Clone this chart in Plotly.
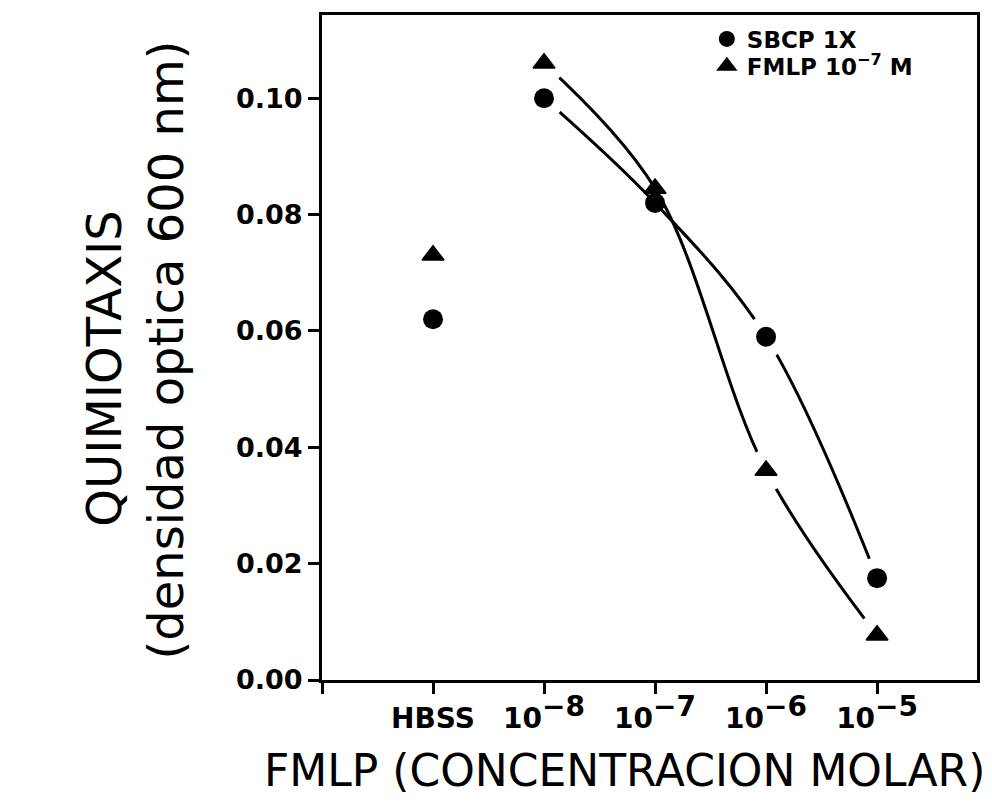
import plotly.graph_objects as go

# ---- data ----
exponents = ["−8", "−7", "−6", "−5"]
positions = [1, 2, 3, 4, 5]
sbcp_1x = [0.062, 0.100, 0.082, 0.059, 0.0175]
fmlp_1e7 = [0.073, 0.106, 0.0845, 0.036, 0.0077]
y_tick_vals = [0.00, 0.02, 0.04, 0.06, 0.08, 0.10]
y_tick_text = ["0.00", "0.02", "0.04", "0.06", "0.08", "0.10"]
series_names = ["SBCP 1X", "FMLP 10<sup>−7</sup> M"]

SUP_SIZE = 28
categories = ["HBSS"] + [
    f"10<sup><span style='font-size:{SUP_SIZE}px'>{e}</span></sup>" for e in exponents
]

# ---- layout geometry (pixels) ----
W, H = 992, 807
L, R, T, B = 322, 979, 15, 680
pw, ph = R - L, B - T


def px(x):
    return (x - L) / pw


def py(y):
    return (B - y) / ph


fig = go.Figure()

# fitted curves (concentration points only)
for vals in (sbcp_1x, fmlp_1e7):
    fig.add_trace(go.Scatter(
        x=positions[1:], y=vals[1:], mode="lines",
        line=dict(color="black", width=3, shape="spline", smoothing=1.0),
        showlegend=False, hoverinfo="skip"))

# white halos producing the gaps of the curves near the markers
halo_idx = [1, 3, 4]
for vals in (sbcp_1x, fmlp_1e7):
    fig.add_trace(go.Scatter(
        x=[positions[i] for i in halo_idx], y=[vals[i] for i in halo_idx],
        mode="markers", marker=dict(symbol="circle", size=42, color="white"),
        showlegend=False, hoverinfo="skip"))

# markers
fig.add_trace(go.Scatter(
    x=positions, y=sbcp_1x, mode="markers", name=series_names[0],
    marker=dict(symbol="circle", size=20, color="black"), legend="legend"))
fig.add_trace(go.Scatter(
    x=positions, y=fmlp_1e7, mode="markers", name=series_names[1],
    marker=dict(symbol="triangle-up", size=19, color="black",
                line=dict(color="black", width=1.5)), legend="legend2"))

tick_font_x = dict(family="DejaVu Sans", size=28, color="black", weight="bold")
tick_font_y = dict(family="DejaVu Sans", size=27, color="black", weight="bold")
title_font = dict(family="DejaVu Sans", size=44, color="black")
legend_font = dict(family="DejaVu Sans", size=23, color="black", weight="bold")

fig.update_layout(
    width=W, height=H,
    margin=dict(l=L, r=W - R, t=T, b=H - B, pad=0),
    paper_bgcolor="white", plot_bgcolor="white",
    xaxis=dict(range=[0, 5.9], tickvals=[0] + positions, ticktext=[""] + categories,
               showgrid=False, zeroline=False, showline=True, mirror=True,
               linecolor="black", linewidth=3, ticks="outside", ticklen=11,
               tickwidth=3, tickcolor="black", tickfont=tick_font_x),
    yaxis=dict(range=[0, 0.1143], tickvals=y_tick_vals, ticktext=y_tick_text,
               showgrid=False, zeroline=False, showline=True, mirror=True,
               linecolor="black", linewidth=3, ticks="outside", ticklen=11,
               tickwidth=3, tickcolor="black", tickfont=tick_font_y),
    legend=dict(x=px(708), y=py(39), xanchor="left", yanchor="middle",
                font=legend_font, bgcolor="rgba(0,0,0,0)", itemwidth=30,
                borderwidth=0),
    legend2=dict(x=px(708), y=py(66), xanchor="left", yanchor="middle",
                 font=legend_font, bgcolor="rgba(0,0,0,0)", itemwidth=30,
                 borderwidth=0),
    annotations=[
        dict(text="FMLP (CONCENTRACION MOLAR)", xref="paper", yref="paper",
             x=px(625), y=py(770), xanchor="center", yanchor="middle",
             showarrow=False, font=title_font),
        dict(text="QUIMIOTAXIS", xref="paper", yref="paper",
             x=px(103), y=py(369), xanchor="center", yanchor="middle",
             showarrow=False, textangle=-90, font=dict(title_font, size=48)),
        dict(text="(densidad optica 600 nm)", xref="paper", yref="paper",
             x=px(166), y=py(350), xanchor="center", yanchor="middle",
             showarrow=False, textangle=-90, font=dict(title_font, size=48)),
    ],
)

fig.write_html("out.html")
